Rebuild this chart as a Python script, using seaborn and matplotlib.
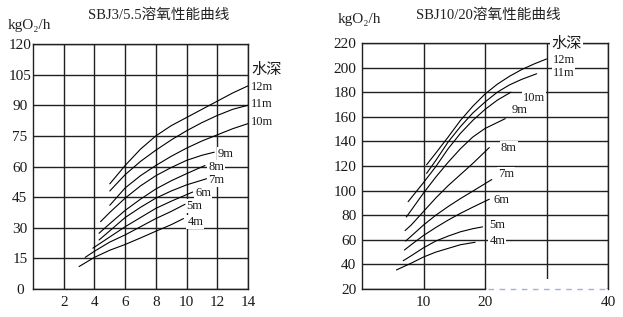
import matplotlib
matplotlib.use("Agg")
import matplotlib.pyplot as plt
import seaborn as sns
import pandas as pd
from matplotlib.patches import Rectangle

# ---------------- data: left chart (SBJ3/5.5) ----------------
left_title = "SBJ3/5.5溶氧性能曲线"
left_xticks = [2, 4, 6, 8, 10, 12, 14]
left_yticks = [0, 15, 30, 45, 60, 75, 90, 105, 120]

L4_x = [3.0, 4, 5, 6, 7, 8, 9, 9.8]
L4_y = [11, 15.5, 19, 21.8, 25, 28.3, 31.5, 34.5]
L5_x = [3.4, 4, 5, 6, 7, 8, 9, 9.9]
L5_y = [15.5, 18.5, 23, 26.5, 30.5, 34.5, 38, 41.5]
L6_x = [3.9, 5, 6, 7, 8, 9, 10.4]
L6_y = [20, 25.5, 30.5, 35, 39.5, 43, 47.5]
L7_x = [4.3, 5, 6, 7, 8, 9, 10, 11.3]
L7_y = [24, 28.5, 35, 40, 44.5, 48, 51, 54]
L8_x = [4.3, 5, 6, 7, 8, 9, 10, 11.2]
L8_y = [27.3, 32, 38.5, 44, 49, 53, 56.5, 60.5]
L9_x = [4.4, 5, 6, 7, 8, 9, 10, 11, 11.8]
L9_y = [33, 37.5, 44.5, 50.5, 55.5, 59.5, 63, 65.5, 67]
L10_x = [5, 6, 7, 8, 9, 10, 11, 12, 13, 14]
L10_y = [41, 49.5, 55.5, 60.5, 65, 69, 72.5, 75.5, 78.5, 81]
L11_x = [5, 6, 7, 8, 9, 10, 11, 12, 13, 14]
L11_y = [48, 56, 62.5, 68, 73, 77.5, 81.5, 85, 88, 90]
L12_x = [5, 6, 7, 8, 9, 10, 11, 12, 13, 14]
L12_y = [51.5, 60.5, 68.5, 75, 80, 84, 88, 92, 96, 99.5]

left_depths = ["4m", "5m", "6m", "7m", "8m", "9m", "10m", "11m", "12m"]
left_label_x = [10.05, 10.0, 10.55, 11.4, 11.4, 12.05, 14.17, 14.17, 14.17]
left_label_y = [33, 40.8, 46.9, 53.4, 60, 66.2, 81.9, 90.7, 99]

# ---------------- data: right chart (SBJ10/20) ----------------
right_title = "SBJ10/20溶氧性能曲线"
right_xticks = [10, 20, 30, 40]
right_xticklabels = ["10", "20", "", "40"]
right_yticks = [20, 40, 60, 80, 100, 120, 140, 160, 180, 200, 220]

R4_x = [5.6, 8, 10, 12, 14, 16, 18.4]
R4_y = [35.5, 41, 46, 50, 53, 56, 58]
R5_x = [6.7, 8, 10, 12, 14, 16, 18, 19.6]
R5_y = [43, 47, 53.5, 59, 63, 66.5, 69, 70.5]
R6_x = [6.9, 8, 10, 12, 14, 16, 18, 20.7]
R6_y = [51.7, 56, 63.5, 70, 76, 81.5, 86.5, 93]
R7_x = [7.1, 8, 10, 12, 14, 16, 18, 21.1]
R7_y = [59, 63, 72, 80, 87, 93.5, 99.5, 109]
R8_x = [7.0, 8, 10, 12, 14, 16, 18, 20.7]
R8_y = [67.5, 72, 83, 94, 104, 113, 122, 135]
R9_x = [7.2, 8, 10, 12, 14, 16, 18, 20, 23.3]
R9_y = [78.5, 84, 98, 111, 123, 134, 143.5, 150.5, 158.5]
R10_x = [7.5, 10, 12, 14, 16, 18, 20, 22, 24.2]
R10_y = [91, 106.5, 119.5, 134, 146.5, 157, 166, 173.5, 180]
R11_x = [10.5, 12, 14, 16, 18, 20, 22, 24, 26, 28.4]
R11_y = [114, 124.5, 139.5, 152, 163, 172, 180, 186, 190.5, 195]
R12_x = [10.5, 12, 14, 16, 18, 20, 22, 24, 26, 28, 30]
R12_y = [121, 130.5, 143.5, 157, 168.5, 178.5, 186.5, 193, 198.5, 203, 207]

right_depths = ["4m", "5m", "6m", "7m", "8m", "9m", "10m", "11m", "12m"]
right_label_x = [20.7, 20.65, 21.35, 22.1, 22.6, 24.4, 26.1, 31.0, 31.1]
right_label_y = [59.2, 72, 92.2, 113.9, 135, 165.9, 175.3, 195.6, 206.5]

depth_title = "水深"

# ---------------- style ----------------
sns.set_style("white")
FAM = ["Liberation Serif", "DejaVu Serif", "Noto Sans CJK SC"]
plt.rcParams["font.family"] = FAM
plt.rcParams["axes.unicode_minus"] = False

def make_df(xs, ys, names):
    rows = []
    for x, y, n in zip(xs, ys, names):
        for a, b in zip(x, y):
            rows.append({"x": a, "y": b, "depth": n})
    return pd.DataFrame(rows)

left_df = make_df([L4_x, L5_x, L6_x, L7_x, L8_x, L9_x, L10_x, L11_x, L12_x],
                  [L4_y, L5_y, L6_y, L7_y, L8_y, L9_y, L10_y, L11_y, L12_y],
                  left_depths)
right_df = make_df([R4_x, R5_x, R6_x, R7_x, R8_x, R9_x, R10_x, R11_x, R12_x],
                   [R4_y, R5_y, R6_y, R7_y, R8_y, R9_y, R10_y, R11_y, R12_y],
                   right_depths)

W, H = 623, 317
fig = plt.figure(figsize=(W / 100, H / 100), dpi=100)
fig.patch.set_facecolor("white")

axL = fig.add_axes([33 / W, 1 - 289 / H, (248 - 33) / W, (289 - 44) / H])
axR = fig.add_axes([362 / W, 1 - 289 / H, (608 - 362) / W, (289 - 43) / H])

GRID_C = "#202020"
for ax in (axL, axR):
    ax.set_facecolor("white")
    for s in ax.spines.values():
        s.set_color(GRID_C)
        s.set_linewidth(1.0)
    ax.grid(True, color=GRID_C, linewidth=1.0)
    ax.set_axisbelow(True)
    ax.tick_params(length=0, labelsize=11, colors="#1a1a1a")

# left chart
sns.lineplot(data=left_df, x="x", y="y", units="depth", estimator=None,
             sort=False, color="black", linewidth=0.8, ax=axL, legend=False)
axL.set_xlim(0, 14)
axL.set_ylim(0, 120)
axL.set_xticks(left_xticks)
axL.set_yticks(left_yticks)
axL.set_xlabel("")
axL.set_ylabel("")
axL.tick_params(axis="y", pad=9.5)
for lab in axL.get_yticklabels():
    lab.set_horizontalalignment("center")
axL.tick_params(axis="x", pad=5)

for t, x, y in zip(left_depths, left_label_x, left_label_y):
    axL.text(x, y, t, fontsize=9, ha="left", va="center", clip_on=False,
             color="#1a1a1a",
             bbox=dict(facecolor="white", edgecolor="none", pad=0.6), zorder=5)
axL.text(14.22, 107.4, depth_title, fontsize=11, ha="left", va="center",
         clip_on=False, family=["Noto Sans CJK SC"], color="#1a1a1a")

# right chart
sns.lineplot(data=right_df, x="x", y="y", units="depth", estimator=None,
             sort=False, color="black", linewidth=0.8, ax=axR, legend=False)
axR.set_xlim(0, 40)
axR.set_ylim(20, 220)
axR.set_xticks(right_xticks)
axR.set_xticklabels(right_xticklabels)
axR.set_yticks(right_yticks)
axR.set_xlabel("")
axR.set_ylabel("")
axR.tick_params(axis="y", pad=4)
axR.tick_params(axis="x", pad=5)
axR.spines["bottom"].set_bounds(0, 20)
axR.add_patch(Rectangle((20.3, 19.5), 19.3, 9.0, facecolor="white",
                        edgecolor="none", zorder=3, clip_on=False))
axR.plot([20.5, 39.5], [20, 20], color="#9fb2dd", linewidth=1.0,
         linestyle=(0, (4, 4)), zorder=4, clip_on=False)

for t, x, y in zip(right_depths, right_label_x, right_label_y):
    axR.text(x, y, t, fontsize=9, ha="left", va="center", clip_on=False,
             color="#1a1a1a",
             bbox=dict(facecolor="white", edgecolor="none", pad=0.6), zorder=5)
axR.text(30.8, 219.4, depth_title, fontsize=11, ha="left", va="center",
         clip_on=False, family=["Noto Sans CJK SC"], color="#1a1a1a",
         bbox=dict(facecolor="white", edgecolor="none", pad=1.0), zorder=6)

# titles and unit labels
fig.text(159 / W, 1 - 15 / H, left_title, fontsize=10.5, ha="center",
         va="center", family=FAM, color="#222222")
fig.text(488 / W, 1 - 15 / H, right_title, fontsize=10.5, ha="center",
         va="center", family=FAM, color="#222222")
fig.text(8 / W, 1 - 26 / H, "kgO₂/h", fontsize=11, ha="left", va="center",
         family=FAM, color="#222222")
fig.text(338 / W, 1 - 20 / H, "kgO₂/h", fontsize=11, ha="left", va="center",
         family=FAM, color="#222222")

fig.savefig("out.png", dpi=100, facecolor="white")
